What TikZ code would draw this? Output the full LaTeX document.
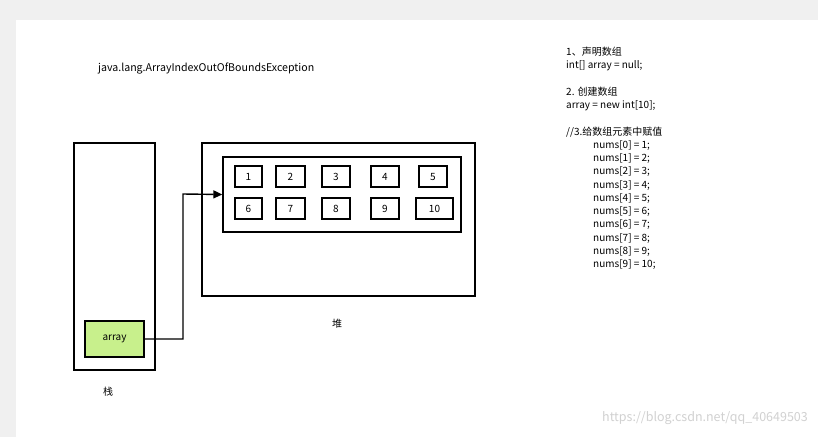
\documentclass[tikz,border=0pt]{standalone}
\usepackage{fontspec}
\setmainfont{Noto Sans CJK SC}
\usetikzlibrary{arrows.meta}
\definecolor{bgg}{RGB}{240,240,240}
\definecolor{grn}{RGB}{200,240,140}
\begin{document}
\begin{tikzpicture}[x=1pt,y=-1pt,
  box/.style={draw,line width=1.4pt,inner sep=0pt},
  cell/.style={draw,line width=1.4pt,minimum height=21pt,font=\fontsize{10}{11}\selectfont,inner sep=0pt},
  txt/.style={font=\fontsize{10}{13.3}\selectfont,inner sep=0pt,anchor=north west,align=left}]
\useasboundingbox (0,0) rectangle (818,437);
\fill[bgg] (0,0) rectangle (818,437);
\fill[white] (16,20) rectangle (818,437);
\node[txt,anchor=west,font=\fontsize{10.6}{12}\selectfont] (title) at (98,69) {java.lang.ArrayIndexOutOfBoundsException};
\draw[box] (74,143) rectangle (155,370);
\node[box,fill=grn,minimum width=59pt,minimum height=36pt,font=\fontsize{10}{11}\selectfont] (arr) at (114.5,339) {array};
\node[font=\fontsize{10}{11}\selectfont] (zhan) at (108,392) {栈};
\draw[box] (202,143) rectangle (475,296);
\node[box,minimum width=238pt,minimum height=75pt] (inner) at (342,194.5) {};
\node[font=\fontsize{10}{11}\selectfont] (dui) at (337,324) {堆};
\foreach \x/\w/\t [count=\i] in {248.5/27/1,290.5/29/2,336/28/3,385/28/4,433/28/5}
  \node[cell,minimum width=\w pt] (c\i) at (\x,176.5) {\t};
\foreach \x/\w/\t [count=\i] in {248.5/27/6,290.5/29/7,336/28/8,385/28/9,434.5/37/10}
  \node[cell,minimum width=\w pt] (d\i) at (\x,208.5) {\t};
\coordinate (bend) at (183,194);
\draw[line width=1.4pt,-{Triangle[length=9pt,width=8pt]}] (arr.east) -| (bend) -- (inner.west);
\node[txt] (code) at (566,47) {1、声明数组\\int[] array = null;\\[13.3pt]2. 创建数组\\array = new int[10];\\[13.3pt]//3.给数组元素中赋值};
\node[txt] (nums) at (593,140) {nums[0] = 1;\\nums[1] = 2;\\nums[2] = 3;\\nums[3] = 4;\\nums[4] = 5;\\nums[5] = 6;\\nums[6] = 7;\\nums[7] = 8;\\nums[8] = 9;\\nums[9] = 10;};
\node[font=\fontsize{12.5}{13}\selectfont,text=black!18,anchor=east,inner sep=0pt] (wm) at (808,418) {https://blog.csdn.net/qq\_40649503};
\end{tikzpicture}
\end{document}
